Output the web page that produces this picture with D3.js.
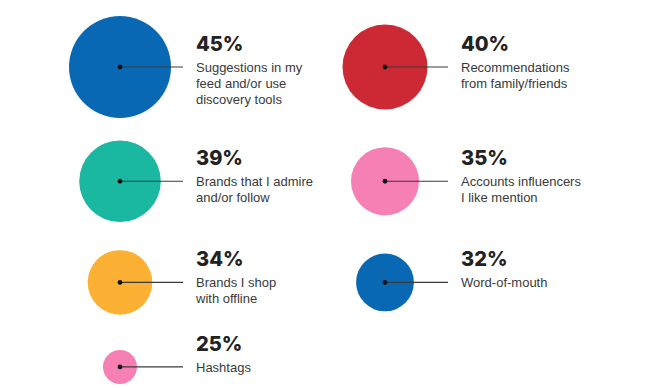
<!DOCTYPE html>
<meta charset="utf-8">
<script src="https://d3js.org/d3.v7.min.js"></script>
<style>
  body { margin: 0; background: #fff; }
</style>
<div id="dataVis"></div>

<script>
// survey answers, in reading order (left, right, left, right ...)
var values = [45, 40, 39, 35, 34, 32, 25];
var labels = [
  ["Suggestions in my", "feed and/or use", "discovery tools"],
  ["Recommendations", "from family/friends"],
  ["Brands that I admire", "and/or follow"],
  ["Accounts influencers", "I like mention"],
  ["Brands I shop", "with offline"],
  ["Word-of-mouth"],
  ["Hashtags"]
];
var colors = ["#0968b4", "#cd2934", "#1ab8a0", "#f67fb3", "#fcb034", "#0968b4", "#f67fb3"];

var width = 650, height = 388;

var svg = d3.select('#dataVis')
  .append('svg')
    .attr('width', width)
    .attr('height', height);

// radius from value
var r = d3.scaleLinear()
  .domain([25, 45])
  .range([17, 51]);

// two columns
var x = d3.scalePoint()
  .domain([0, 1])
  .range([120, 385]);

// rows stacked by their biggest bubble
var nRows = Math.ceil(values.length / 2);
var rowMax = d3.range(nRows).map(function(k) {
  return d3.max(values.filter((v, i) => Math.floor(i / 2) == k), r);
});
var rowY = [];
rowMax.forEach(function(m, k) {
  rowY.push(k == 0 ? 16 + m : rowY[k - 1] + 50 + 0.7 * (rowMax[k - 1] + m));
});

var items = values.map(function(v, i) {
  return { value: v, label: labels[i], color: colors[i], col: i % 2, row: Math.floor(i / 2) };
});

var g = svg.selectAll('g.item')
  .data(items)
  .enter().append('g')
    .attr('class', 'item')
    .attr('transform', d => 'translate(' + x(d.col) + ',' + rowY[d.row] + ')');

g.append('circle')
  .attr('r', d => r(d.value))
  .attr('fill', d => d.color);

g.append('line')
  .attr('x1', 0).attr('x2', 63)
  .attr('stroke', '#3a3a3a')
  .attr('stroke-width', 1.2);

g.append('circle')
  .attr('r', 2.4)
  .attr('fill', '#111');

g.append('text')
  .attr('x', 76)
  .attr('y', -16)
  .attr('font-family', 'Inter, sans-serif')
  .attr('font-weight', 800)
  .attr('font-size', 20)
  .attr('fill', '#222')
  .text(d => d.value + '%');

g.append('text')
  .attr('x', 76)
  .attr('y', 5)
  .attr('font-family', '"Liberation Sans", Arial, sans-serif')
  .attr('font-size', 13)
  .attr('fill', '#3a3a3a')
  .selectAll('tspan')
  .data(d => d.label)
  .enter().append('tspan')
    .attr('x', 76)
    .attr('dy', (d, i) => i == 0 ? 0 : 15.8)
    .text(d => d);
</script>
